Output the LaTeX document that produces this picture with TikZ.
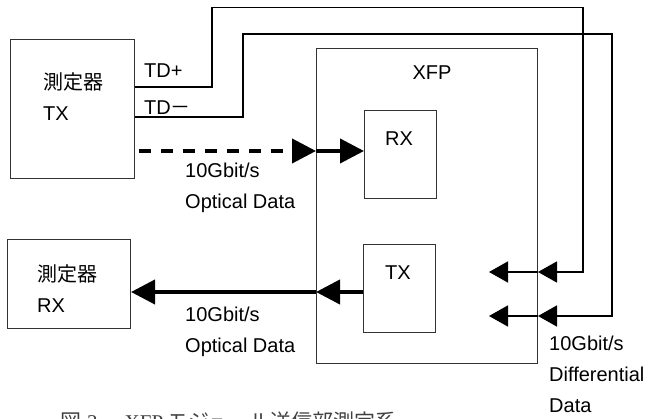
\documentclass[tikz,border=0pt]{standalone}
\usepackage{fontspec}
\setmainfont{Liberation Sans}
\newfontfamily\cjk{Noto Sans CJK JP}
\newfontfamily\capserif{Liberation Serif}
\usetikzlibrary{arrows.meta}

\begin{document}
\begin{tikzpicture}[x=1pt,y=-1pt,
  box/.style={draw=black!80, line width=1pt, inner sep=0pt, anchor=north west},
  lbl/.style={anchor=base west, inner sep=0pt, font=\fontsize{20}{24}\selectfont},
  clbl/.style={anchor=base, inner sep=0pt, font=\fontsize{20}{24}\selectfont},
  wire/.style={line width=1.6pt, draw=black},
  thin arrow/.style={wire, -{Triangle[length=19pt,width=21pt]}},
  fat arrow/.style={line width=4pt, draw=black, -{Triangle[length=24pt,width=24pt]}},
]
\useasboundingbox (0,0) rectangle (651,419);

% instruments and module
\node[box, minimum width=124pt, minimum height=139pt] (mtx) at (10,39) {};
\node[box, minimum width=123pt, minimum height=89pt]  (mrx) at (7,239) {};
\node[box, minimum width=221pt, minimum height=315pt] (xfp) at (316,48) {};
\node[box, minimum width=72pt,  minimum height=88pt]  (rx)  at (364,110) {};
\node[box, minimum width=72pt,  minimum height=88pt]  (tx)  at (363,244) {};

% box labels
\node[lbl] (mtxa) at (43,90)  {\cjk 測定器};
\node[lbl] (mtxb) at (43,121) {TX};
\node[lbl] (mrxa) at (37,282) {\cjk 測定器};
\node[lbl] (mrxb) at (37,313) {RX};
\node[clbl] (xfpl) at (432,80)  {XFP};
\node[clbl] (rxl)  at (399,146) {RX};
\node[clbl] (txl)  at (398,280) {TX};

% differential pair
\node[lbl] (tdp) at (144,78)  {TD+};
\node[lbl] (tdm) at (144,115) {TD{\cjk －}};

\coordinate (dpin) at (489,272);
\coordinate (dmin) at (489,316);

\draw[thin arrow] (mtx.east |- 0,87) -| (212,7.5) -| (583,272) -- (xfp.east |- 0,272);
\draw[thin arrow] (mtx.east |- 0,117) -| (243,34) -| (612,316) -- (xfp.east |- 0,316);
\draw[thin arrow] (xfp.east |- 0,272) -- (dpin);
\draw[thin arrow] (xfp.east |- 0,316) -- (dmin);

% optical paths
\coordinate (optstart) at (139,151);
\draw[fat arrow, dash pattern=on 12pt off 10pt] (optstart) -- (xfp.west |- 0,151);
\draw[fat arrow] (xfp.west |- 0,151) -- (rx.west |- 0,151);
\draw[fat arrow] (tx.west |- 0,292) -- (xfp.west |- 0,292);
\draw[fat arrow] (xfp.west |- 0,292) -- (mrx.east |- 0,292);

% signal labels
\node[lbl] (o1a) at (185,178) {10Gbit/s};
\node[lbl] (o1b) at (185,209) {Optical Data};
\node[lbl] (o2a) at (185,322) {10Gbit/s};
\node[lbl] (o2b) at (185,353) {Optical Data};
\node[lbl] (d1)  at (549,351) {10Gbit/s};
\node[lbl] (d2)  at (549,382) {Differential};
\node[lbl] (d3)  at (549,413) {Data};

% caption, running off the lower edge of the page
\node[lbl, text=black!75, font=\fontsize{21}{24}\selectfont] (cap) at (60,430)
  {{\cjk 図}\hspace{6pt}{\capserif 3}\hspace{27pt}{\capserif XFP}\hspace{4pt}{\cjk モジュール送信部測定系}};
\end{tikzpicture}
\end{document}
